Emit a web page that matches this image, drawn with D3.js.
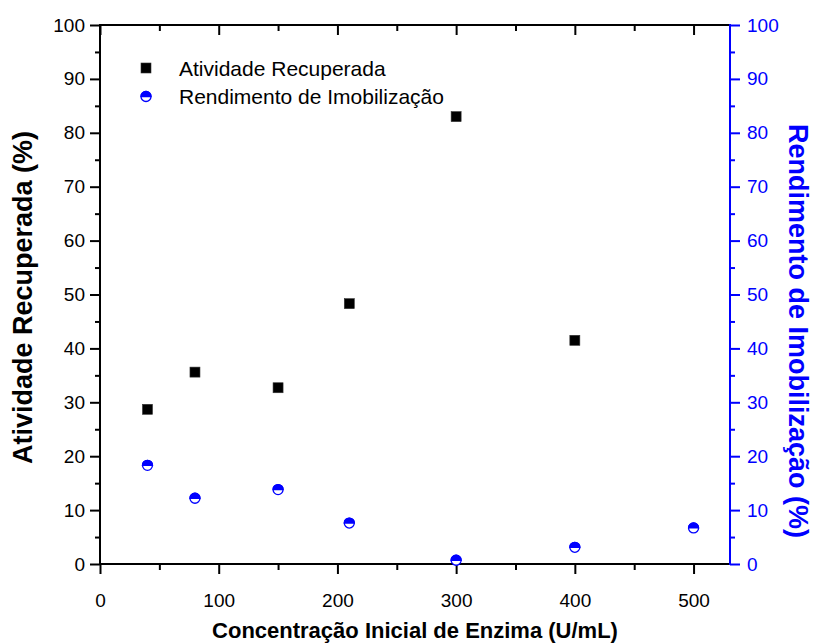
<!DOCTYPE html>
<html>
<head>
<meta charset="utf-8">
<script src="https://cdn.jsdelivr.net/npm/d3@7"></script>
<style>
  body { margin: 0; background: #fff; }
  svg text { font-family: "Liberation Sans", Arial, sans-serif; }
</style>
</head>
<body>
<svg id="chart" width="815" height="644"></svg>
<script>
// ---- Data ----
const atividadeX = [40, 80, 150, 210, 300, 400];
const atividadeY = [28.7, 35.6, 32.7, 48.3, 83.0, 41.5];
const rendimentoX = [40, 80, 150, 210, 300, 400, 500];
const rendimentoY = [18.3, 12.2, 13.8, 7.6, 0.7, 3.1, 6.7];
const xTicks = [0, 100, 200, 300, 400, 500];
const yTicks = [0, 10, 20, 30, 40, 50, 60, 70, 80, 90, 100];
const legendLabels = ["Atividade Recuperada", "Rendimento de Imobilização"];
const xTitle = "Concentração Inicial de Enzima (U/mL)";
const yTitleLeft = "Atividade Recuperada (%)";
const yTitleRight = "Rendimento de Imobilização (%)";

const BLUE = "#0000ff";
const svg = d3.select("#chart");
const L = 100, R = 730, T = 25, B = 564;

const x = d3.scaleLinear().domain([0, 530.7]).range([L, R]);
const yL = d3.scaleLinear().domain([0, 100]).range([B, T]);
const yR = d3.scaleLinear().domain([0, 100]).range([B, T]);

const xMinor = d3.range(50, 531, 100);
const yMinor = d3.range(5, 100, 10);

function styleAxis(g, color) {
  g.select(".domain").remove();
  g.selectAll("line").attr("stroke", color).attr("stroke-width", 2);
  g.selectAll("text").attr("fill", color).style("font-size", "19px");
}

// Bottom axis
const gx = svg.append("g").attr("transform", `translate(0,${B})`)
  .call(d3.axisBottom(x).tickValues(xTicks).tickSize(10).tickPadding(20).tickFormat(d3.format("d")));
styleAxis(gx, "#000");
svg.append("g").attr("transform", `translate(0,${B})`)
  .call(d3.axisBottom(x).tickValues(xMinor).tickSize(6).tickFormat(""))
  .call(g => styleAxis(g, "#000"));

// Top axis (ticks inward)
svg.append("g").attr("transform", `translate(0,${T})`)
  .call(d3.axisBottom(x).tickValues(xTicks).tickSize(10).tickFormat(""))
  .call(g => styleAxis(g, "#000"));
svg.append("g").attr("transform", `translate(0,${T})`)
  .call(d3.axisBottom(x).tickValues(xMinor).tickSize(6).tickFormat(""))
  .call(g => styleAxis(g, "#000"));

// Left axis
const gy = svg.append("g").attr("transform", `translate(${L},0)`)
  .call(d3.axisLeft(yL).tickValues(yTicks).tickSize(10).tickPadding(5).tickFormat(d3.format("d")));
styleAxis(gy, "#000");
svg.append("g").attr("transform", `translate(${L},0)`)
  .call(d3.axisLeft(yL).tickValues(yMinor).tickSize(5).tickFormat(""))
  .call(g => styleAxis(g, "#000"));

// Right axis (blue)
const gyr = svg.append("g").attr("transform", `translate(${R},0)`)
  .call(d3.axisRight(yR).tickValues(yTicks).tickSize(10).tickPadding(7).tickFormat(d3.format("d")));
styleAxis(gyr, BLUE);
svg.append("g").attr("transform", `translate(${R},0)`)
  .call(d3.axisRight(yR).tickValues(yMinor).tickSize(5).tickFormat(""))
  .call(g => styleAxis(g, BLUE));

// Frame lines
svg.append("line").attr("x1", L).attr("x2", R).attr("y1", B).attr("y2", B).attr("stroke", "#000").attr("stroke-width", 2);
svg.append("line").attr("x1", L).attr("x2", R).attr("y1", T).attr("y2", T).attr("stroke", "#000").attr("stroke-width", 2);
svg.append("line").attr("x1", L).attr("x2", L).attr("y1", T - 1).attr("y2", B + 1).attr("stroke", "#000").attr("stroke-width", 2);
svg.append("line").attr("x1", R).attr("x2", R).attr("y1", T - 1).attr("y2", B + 1).attr("stroke", BLUE).attr("stroke-width", 2);

// Markers
const S = 10, RAD = 5;
function halfCircle(sel, cx, cy) {
  sel.append("circle").attr("cx", cx).attr("cy", cy).attr("r", RAD)
    .attr("fill", "#fff").attr("stroke", BLUE).attr("stroke-width", 1.3);
  sel.append("path")
    .attr("d", `M${cx - RAD},${cy} A${RAD},${RAD} 0 0 1 ${cx + RAD},${cy} Z`)
    .attr("fill", BLUE).attr("stroke", BLUE).attr("stroke-width", 1.3);
}
function square(sel, cx, cy) {
  sel.append("rect").attr("x", cx - S / 2).attr("y", cy - S / 2).attr("width", S).attr("height", S)
    .attr("fill", "#000").attr("stroke", "#333").attr("stroke-width", 0.6);
}

const gA = svg.append("g");
atividadeX.forEach((d, i) => square(gA, x(d), yL(atividadeY[i])));
const gR = svg.append("g");
rendimentoX.forEach((d, i) => halfCircle(gR, x(d), yR(rendimentoY[i])));

// Legend
const lg = svg.append("g");
square(lg, 146, 68);
halfCircle(lg, 146, 96.5);
lg.append("text").attr("x", 179).attr("y", 76).text(legendLabels[0]).style("font-size", "21px");
lg.append("text").attr("x", 179).attr("y", 104).text(legendLabels[1]).style("font-size", "21px");

// Titles
svg.append("text").attr("x", 415).attr("y", 638).attr("text-anchor", "middle")
  .style("font-size", "22px").style("font-weight", "bold").text(xTitle);
svg.append("text").attr("transform", "translate(32,464) rotate(-90)").attr("text-anchor", "start")
  .style("font-size", "27px").style("font-weight", "bold").text(yTitleLeft);
svg.append("text").attr("transform", "translate(789,124) rotate(90)").attr("text-anchor", "start")
  .attr("fill", BLUE).style("font-size", "27px").style("font-weight", "bold").text(yTitleRight);
</script>
</body>
</html>
